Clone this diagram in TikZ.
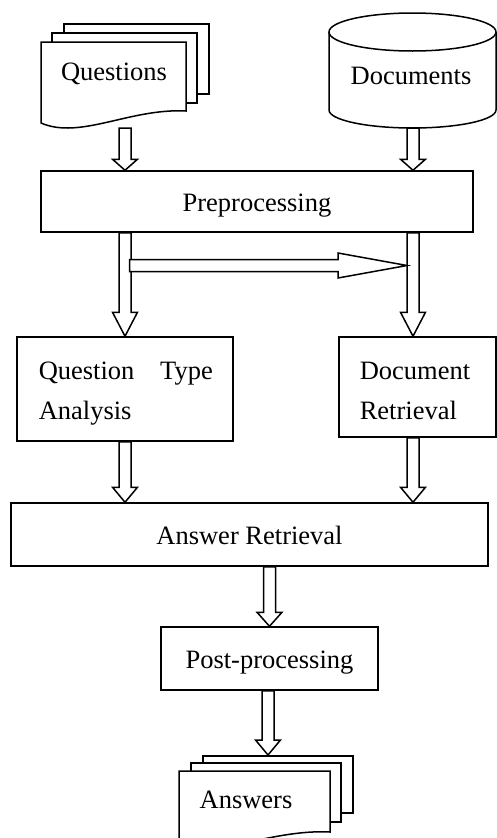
\documentclass[tikz,border=0pt]{standalone}
\usepackage{fontspec}
\setmainfont{Liberation Serif}
\usetikzlibrary{calc}
\begin{document}
\begin{tikzpicture}[x=1pt,y=-1pt,
  line width=1.5pt, line join=miter,
  every node/.style={font=\fontsize{26.5}{40}\selectfont, inner sep=0pt},
  box/.style={draw, fill=white, text height=20pt, text depth=0pt},
  sheet/.style={draw, fill=white},
  fat/.style={draw, fill=white},
  fat down/.style={to path={let \p1=(\tikztostart), \p2=(\tikztotarget) in
     (\x1-6pt,\y1) -- (\x1-6pt,\y2+#1) -- (\x1-12.5pt,\y2+#1) -- (\x1,\y2)
     -- (\x1+12.5pt,\y2+#1) -- (\x1+6pt,\y2+#1) -- (\x1+6pt,\y1) -- cycle}},
  fat right/.style={to path={let \p1=(\tikztostart), \p2=(\tikztotarget) in
     (\x1,\y1+6pt) -- (\x2-#1,\y1+6pt) -- (\x2-#1,\y1+12.5pt) -- (\x2,\y1)
     -- (\x2-#1,\y1-12.5pt) -- (\x2-#1,\y1-6pt) -- (\x1,\y1-6pt) -- cycle}},
]
\useasboundingbox (0,0) rectangle (497,838);
\clip (0,0) rectangle (497,838);

% Questions: stacked document sheets
\draw[sheet] (64,24) rectangle (209,94);
\draw[sheet] (52,33) rectangle (197,103);
\draw[sheet] (41,42) -- (186,42) -- (186,111) .. controls (130,108) and (80,140) .. (41,123) -- cycle;
\node[anchor=base] (questions) at (114,80) {Questions};

% Documents: database cylinder
\draw[sheet] (329,32) -- (329,110) arc[start angle=180, end angle=360, x radius=83.5pt, y radius=18pt] -- (496,32);
\draw[sheet] (412.5,32) ellipse [x radius=83.5pt, y radius=19pt];
\node[anchor=base] (documents) at (411,84) {Documents};

% Processing boxes
\node[box, minimum width=432pt, minimum height=61pt] (pre) at (257,201.5) {Preprocessing};
\node[box, minimum width=216pt, minimum height=104pt] (qta) at (125,389) {};
\node[anchor=base west, text width=174pt, align=left] (qtatext) at (38,379) {Question\hfill Type\\Analysis};
\node[box, minimum width=157pt, minimum height=100pt] (dr) at (417.5,387) {};
\node[anchor=base west, text width=120pt, align=left] (drtext) at (359,379) {Document\\Retrieval};
\node[box, minimum width=477pt, minimum height=63pt] (ar) at (249.5,534.5) {Answer Retrieval};
\node[box, minimum width=217pt, minimum height=63pt] (post) at (269.5,658.5) {Post-processing};

% Answers: stacked document sheets
\draw[sheet] (203,756) rectangle (353,813);
\draw[sheet] (191,763) rectangle (341,822);
\draw[sheet] (179,771) -- (330,771) -- (330,832) .. controls (272,829) and (220,858) .. (179,843) -- cycle;
\node[anchor=base] (answers) at (246,808) {Answers};

% Hollow block arrows
\coordinate (qout) at (125,128);
\coordinate (dout) at (413,128);
\coordinate (ansin) at (268,755);
\coordinate (hs) at (129.5,265.5);
\coordinate (he) at (407,265.5);
\draw[fat] (qout) to[fat down=11pt] (qout |- pre.north);
\draw[fat] (dout) to[fat down=11pt] (dout |- pre.north);
\draw[fat] (qout |- pre.south) to[fat down=24pt] (qout |- qta.north);
\draw[fat] (dout |- pre.south) to[fat down=24pt] (dout |- dr.north);
\draw[fat] (hs) to[fat right=69pt] (he);
\draw[fat] (qout |- qta.south) to[fat down=15pt] (qout |- ar.north);
\draw[fat] (dout |- dr.south) to[fat down=15pt] (dout |- ar.north);
\draw[fat] (post.north |- ar.south) to[fat down=14pt] (post.north);
\draw[fat] (ansin |- post.south) to[fat down=15pt] (ansin);
\end{tikzpicture}
\end{document}
